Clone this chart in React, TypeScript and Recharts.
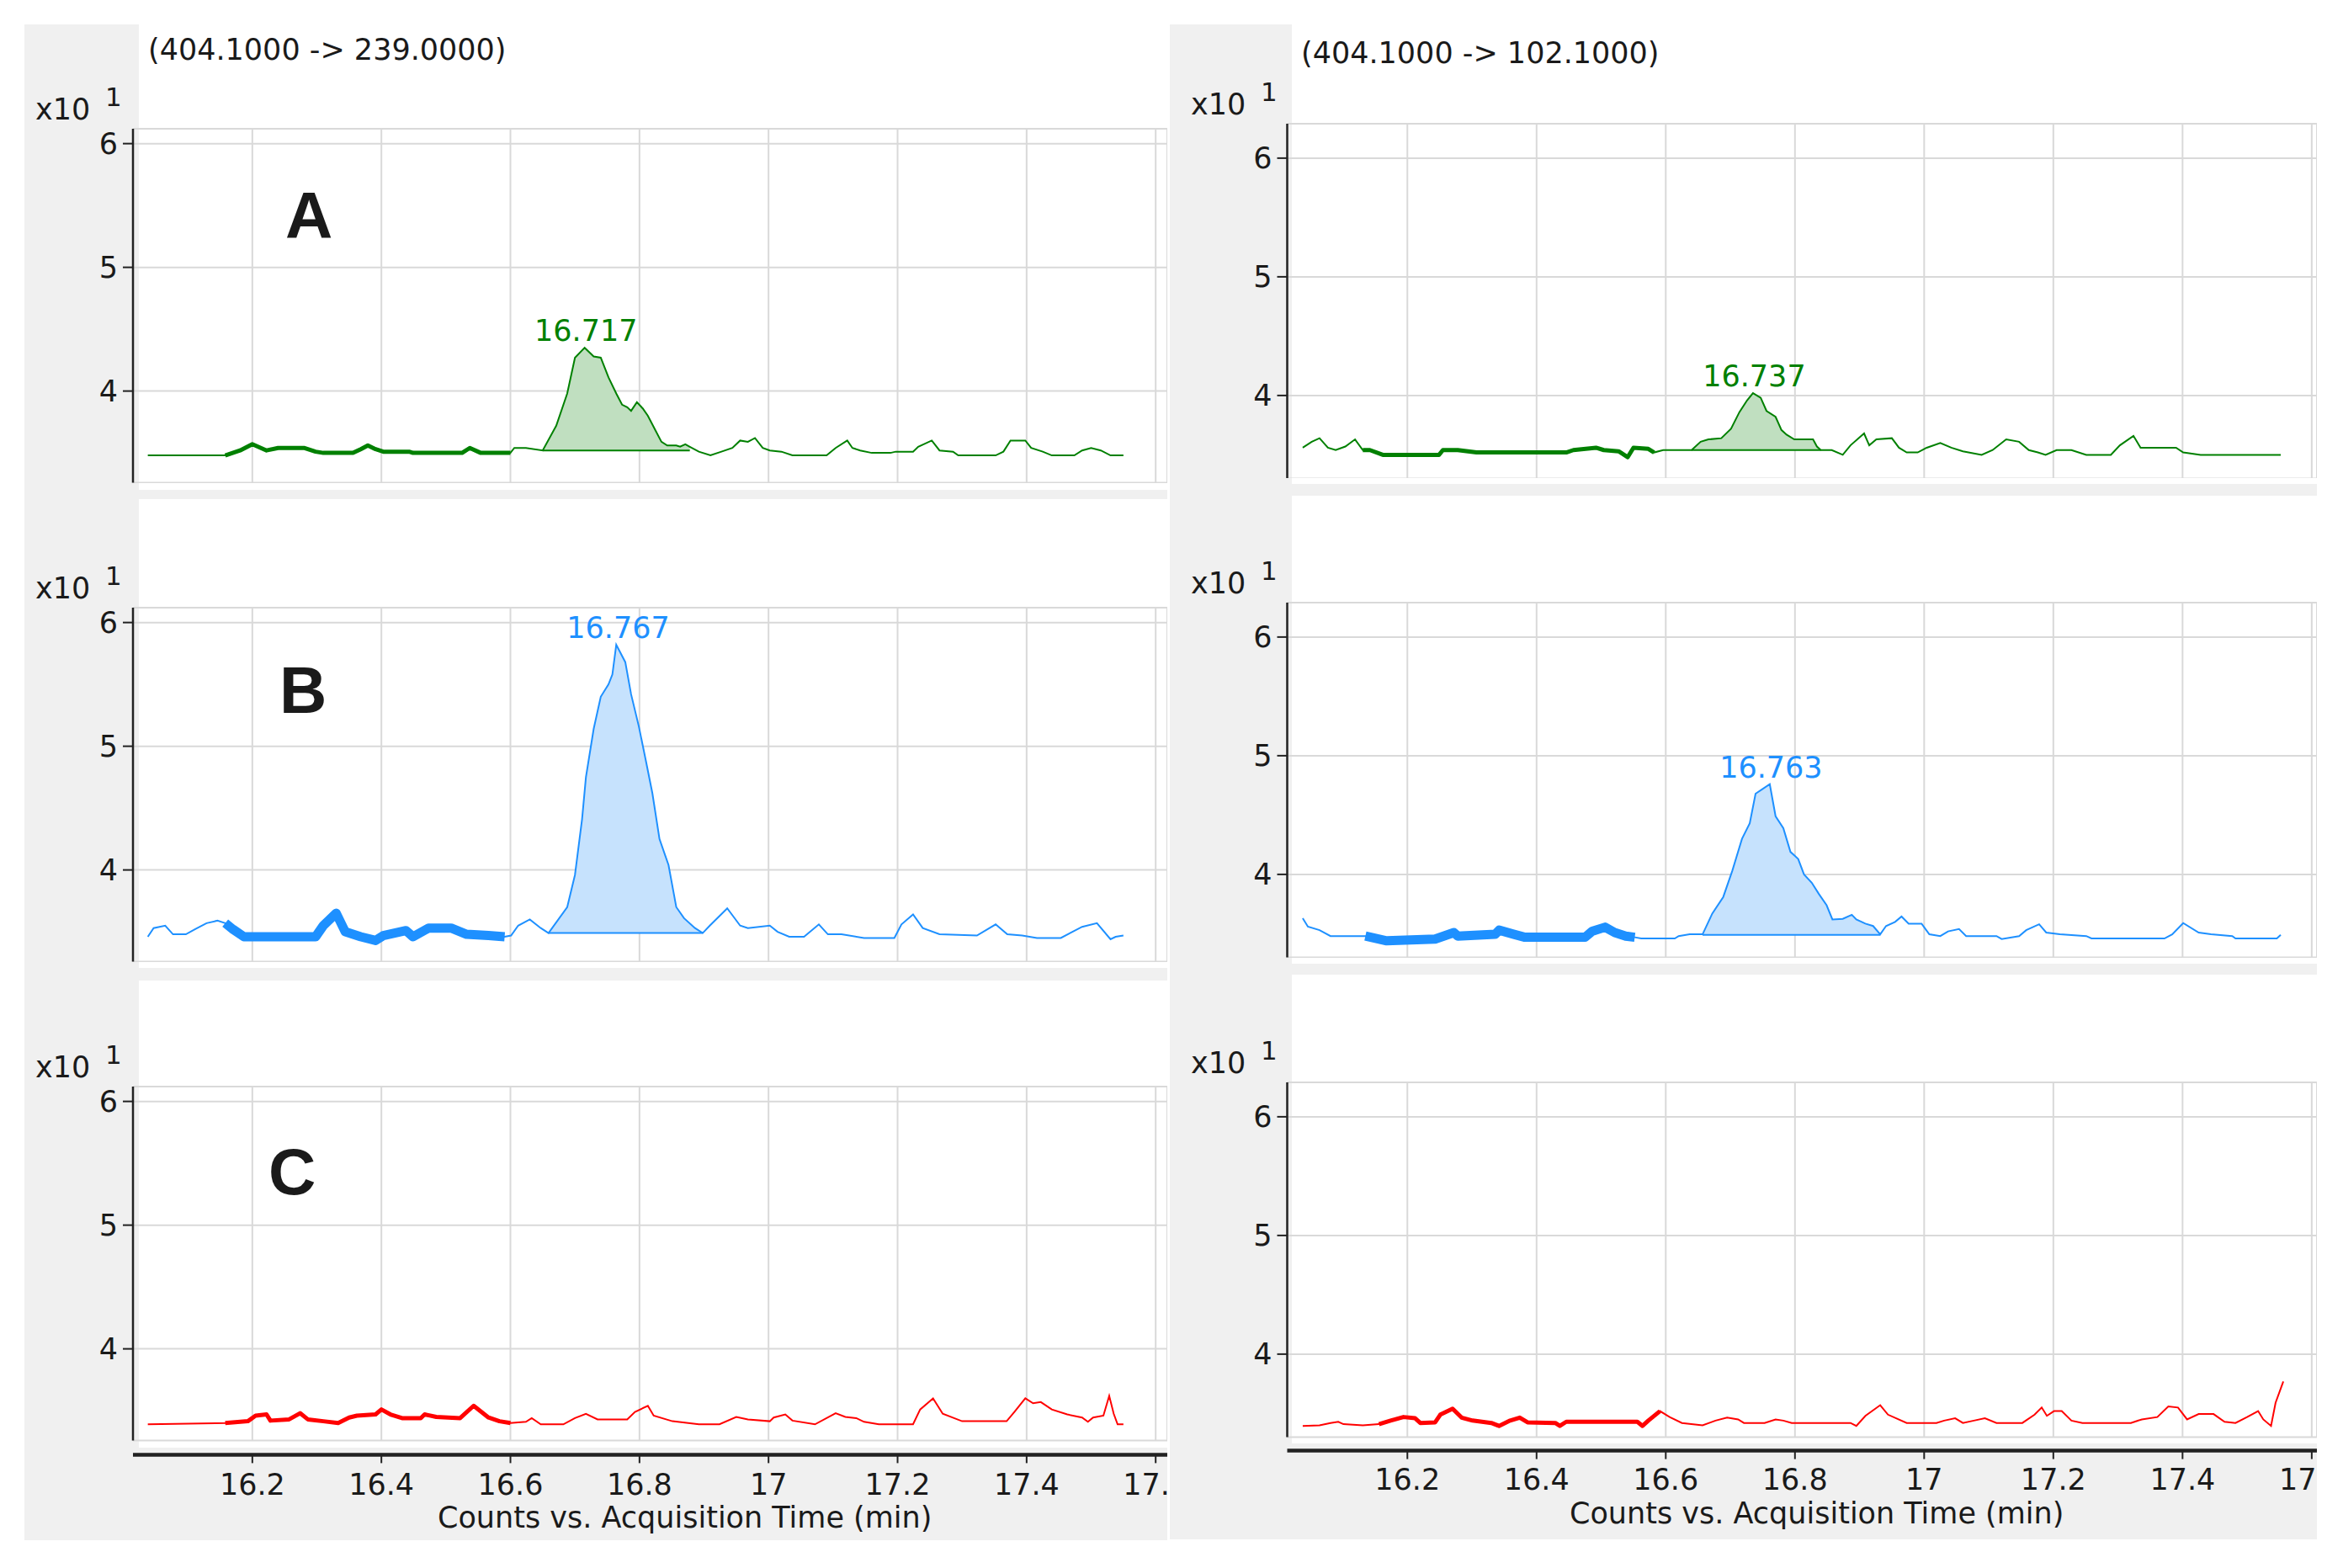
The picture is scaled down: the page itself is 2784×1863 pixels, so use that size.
import React from "react";
import {
  ComposedChart,
  Line,
  Area,
  XAxis,
  YAxis,
  CartesianGrid,
  ReferenceDot
} from "recharts";

// ---- axis ticks / labels ----
const timeTicks = [16.2, 16.4, 16.6, 16.8, 17, 17.2, 17.4, 17.6];
const countTicks = [4, 5, 6];
const transitions = ["(404.1000 -> 239.0000)", "(404.1000 -> 102.1000)"];
const rowLetters = ["A", "B", "C"];
const axisTitle = "Counts vs. Acquisition Time (min)";

// ---- row A, green ----
const aLeftTime = [16.038, 16.158, 16.181, 16.2, 16.222, 16.24, 16.28, 16.298, 16.31, 16.356, 16.368, 16.379, 16.391, 16.403, 16.443, 16.449, 16.525, 16.537, 16.554, 16.6, 16.606, 16.624, 16.65, 16.671, 16.688, 16.7, 16.715, 16.729, 16.74, 16.752, 16.764, 16.773, 16.781, 16.787, 16.796, 16.805, 16.813, 16.824, 16.834, 16.843, 16.857, 16.863, 16.871, 16.878, 16.892, 16.91, 16.927, 16.944, 16.956, 16.968, 16.979, 16.991, 17.002, 17.02, 17.037, 17.09, 17.104, 17.122, 17.13, 17.142, 17.16, 17.189, 17.197, 17.224, 17.232, 17.253, 17.265, 17.286, 17.294, 17.352, 17.364, 17.375, 17.398, 17.407, 17.425, 17.439, 17.474, 17.486, 17.5, 17.515, 17.53, 17.55];
const aLeftCounts = [3.48, 3.48, 3.52, 3.57, 3.52, 3.54, 3.54, 3.51, 3.5, 3.5, 3.53, 3.56, 3.53, 3.51, 3.51, 3.5, 3.5, 3.54, 3.5, 3.5, 3.54, 3.54, 3.52, 3.72, 3.98, 4.27, 4.35, 4.28, 4.27, 4.11, 3.98, 3.89, 3.87, 3.84, 3.91, 3.86, 3.8, 3.69, 3.59, 3.56, 3.56, 3.55, 3.57, 3.55, 3.51, 3.48, 3.51, 3.54, 3.6, 3.59, 3.62, 3.54, 3.52, 3.51, 3.48, 3.48, 3.54, 3.6, 3.54, 3.52, 3.5, 3.5, 3.51, 3.51, 3.55, 3.6, 3.52, 3.51, 3.48, 3.48, 3.51, 3.6, 3.6, 3.54, 3.51, 3.48, 3.48, 3.52, 3.54, 3.52, 3.48, 3.48];
const aLeftBold = [16.158, 16.6];
const aLeftPeak = [16.65, 16.878, 3.52]; // start, end, baseline
const aLeftLabel = [16.717, 4.35]; // rt, apex

const aRightTime = [16.038, 16.052, 16.064, 16.077, 16.089, 16.104, 16.119, 16.131, 16.142, 16.162, 16.249, 16.255, 16.278, 16.307, 16.446, 16.457, 16.492, 16.504, 16.527, 16.541, 16.55, 16.573, 16.582, 16.596, 16.631, 16.64, 16.654, 16.666, 16.686, 16.701, 16.714, 16.726, 16.735, 16.747, 16.756, 16.77, 16.779, 16.787, 16.799, 16.828, 16.834, 16.84, 16.857, 16.874, 16.886, 16.907, 16.915, 16.926, 16.95, 16.961, 16.973, 16.99, 17.004, 17.025, 17.042, 17.06, 17.089, 17.106, 17.127, 17.147, 17.162, 17.176, 17.188, 17.205, 17.228, 17.251, 17.289, 17.303, 17.324, 17.335, 17.361, 17.39, 17.401, 17.428, 17.552];
const aRightCounts = [3.56, 3.61, 3.64, 3.56, 3.54, 3.57, 3.63, 3.54, 3.54, 3.5, 3.5, 3.54, 3.54, 3.52, 3.52, 3.54, 3.56, 3.54, 3.53, 3.48, 3.56, 3.55, 3.52, 3.54, 3.54, 3.54, 3.61, 3.63, 3.64, 3.72, 3.86, 3.96, 4.02, 3.98, 3.87, 3.82, 3.71, 3.67, 3.63, 3.63, 3.57, 3.54, 3.54, 3.5, 3.58, 3.68, 3.58, 3.63, 3.64, 3.56, 3.52, 3.52, 3.56, 3.6, 3.56, 3.53, 3.5, 3.54, 3.63, 3.61, 3.54, 3.52, 3.5, 3.54, 3.54, 3.5, 3.5, 3.58, 3.66, 3.56, 3.56, 3.56, 3.52, 3.5, 3.5];
const aRightBold = [16.131, 16.582];
const aRightPeak = [16.64, 16.84, 3.54];
const aRightLabel = [16.737, 4.02];

// ---- row B, blue ----
const bLeftTime = [16.038, 16.047, 16.065, 16.077, 16.097, 16.111, 16.129, 16.146, 16.158, 16.17, 16.187, 16.298, 16.31, 16.33, 16.344, 16.368, 16.391, 16.403, 16.438, 16.449, 16.473, 16.508, 16.532, 16.566, 16.591, 16.601, 16.612, 16.63, 16.647, 16.659, 16.688, 16.7, 16.711, 16.717, 16.729, 16.74, 16.752, 16.758, 16.764, 16.778, 16.787, 16.799, 16.81, 16.82, 16.831, 16.845, 16.857, 16.869, 16.886, 16.898, 16.909, 16.936, 16.956, 16.968, 17.002, 17.014, 17.032, 17.055, 17.078, 17.092, 17.113, 17.148, 17.195, 17.206, 17.224, 17.239, 17.265, 17.323, 17.352, 17.37, 17.393, 17.416, 17.453, 17.486, 17.509, 17.53, 17.538, 17.55];
const bLeftCounts = [3.46, 3.53, 3.55, 3.48, 3.48, 3.52, 3.57, 3.59, 3.57, 3.52, 3.46, 3.46, 3.55, 3.65, 3.5, 3.46, 3.43, 3.47, 3.51, 3.46, 3.53, 3.53, 3.48, 3.47, 3.46, 3.47, 3.55, 3.6, 3.53, 3.49, 3.7, 3.96, 4.41, 4.75, 5.14, 5.4, 5.5, 5.58, 5.82, 5.68, 5.42, 5.16, 4.88, 4.62, 4.25, 4.04, 3.7, 3.61, 3.53, 3.49, 3.55, 3.69, 3.55, 3.53, 3.55, 3.5, 3.46, 3.46, 3.56, 3.48, 3.48, 3.45, 3.45, 3.56, 3.64, 3.53, 3.48, 3.47, 3.56, 3.48, 3.47, 3.45, 3.45, 3.54, 3.57, 3.44, 3.46, 3.47];
const bLeftBold = [16.158, 16.591];
const bLeftPeak = [16.659, 16.898, 3.49];
const bLeftLabel = [16.767, 5.82];

const bRightTime = [16.038, 16.046, 16.064, 16.081, 16.135, 16.168, 16.243, 16.272, 16.278, 16.336, 16.342, 16.365, 16.382, 16.475, 16.486, 16.506, 16.521, 16.538, 16.552, 16.562, 16.614, 16.62, 16.637, 16.657, 16.672, 16.689, 16.703, 16.718, 16.73, 16.739, 16.75, 16.761, 16.77, 16.782, 16.793, 16.805, 16.814, 16.826, 16.837, 16.849, 16.858, 16.874, 16.888, 16.895, 16.909, 16.921, 16.932, 16.941, 16.955, 16.965, 16.976, 16.996, 17.008, 17.025, 17.037, 17.054, 17.065, 17.112, 17.12, 17.147, 17.158, 17.178, 17.189, 17.21, 17.251, 17.259, 17.372, 17.384, 17.401, 17.425, 17.444, 17.477, 17.482, 17.546, 17.552];
const bRightCounts = [3.63, 3.56, 3.53, 3.48, 3.48, 3.44, 3.455, 3.51, 3.48, 3.495, 3.53, 3.495, 3.47, 3.47, 3.52, 3.555, 3.51, 3.48, 3.47, 3.46, 3.46, 3.48, 3.495, 3.495, 3.67, 3.81, 4.03, 4.3, 4.43, 4.68, 4.72, 4.76, 4.49, 4.39, 4.19, 4.13, 4.0, 3.93, 3.835, 3.74, 3.62, 3.625, 3.66, 3.62, 3.585, 3.565, 3.495, 3.565, 3.6, 3.645, 3.585, 3.585, 3.495, 3.48, 3.52, 3.54, 3.48, 3.48, 3.455, 3.48, 3.53, 3.58, 3.51, 3.495, 3.48, 3.46, 3.46, 3.495, 3.59, 3.51, 3.495, 3.48, 3.46, 3.46, 3.49];
const bRightBold = [16.135, 16.552];
const bRightPeak = [16.657, 16.932, 3.49];
const bRightLabel = [16.763, 4.76];

// ---- row C, red ----
const cLeftTime = [16.038, 16.158, 16.193, 16.205, 16.222, 16.228, 16.257, 16.274, 16.286, 16.31, 16.333, 16.35, 16.362, 16.391, 16.4, 16.414, 16.432, 16.461, 16.467, 16.485, 16.522, 16.543, 16.566, 16.583, 16.6, 16.624, 16.633, 16.647, 16.682, 16.7, 16.717, 16.735, 16.781, 16.793, 16.813, 16.822, 16.851, 16.892, 16.924, 16.95, 16.968, 17.002, 17.008, 17.026, 17.037, 17.072, 17.104, 17.119, 17.136, 17.148, 17.171, 17.224, 17.235, 17.255, 17.27, 17.3, 17.369, 17.381, 17.398, 17.41, 17.422, 17.439, 17.463, 17.486, 17.495, 17.503, 17.519, 17.528, 17.535, 17.541, 17.55];
const cLeftCounts = [3.39, 3.4, 3.415, 3.46, 3.47, 3.42, 3.43, 3.48, 3.43, 3.415, 3.4, 3.445, 3.46, 3.47, 3.51, 3.47, 3.44, 3.44, 3.47, 3.45, 3.44, 3.54, 3.445, 3.415, 3.4, 3.41, 3.44, 3.39, 3.39, 3.44, 3.475, 3.43, 3.43, 3.49, 3.54, 3.46, 3.415, 3.39, 3.39, 3.45, 3.43, 3.415, 3.445, 3.47, 3.42, 3.39, 3.48, 3.45, 3.44, 3.41, 3.39, 3.39, 3.51, 3.6, 3.475, 3.415, 3.415, 3.49, 3.6, 3.56, 3.57, 3.51, 3.47, 3.445, 3.41, 3.445, 3.46, 3.62, 3.475, 3.39, 3.39];
const cLeftBold = [16.158, 16.6];

const cRightTime = [16.038, 16.064, 16.081, 16.093, 16.101, 16.131, 16.156, 16.174, 16.194, 16.212, 16.22, 16.243, 16.251, 16.27, 16.284, 16.301, 16.33, 16.342, 16.359, 16.374, 16.386, 16.429, 16.436, 16.446, 16.481, 16.556, 16.564, 16.573, 16.591, 16.606, 16.625, 16.657, 16.677, 16.695, 16.712, 16.721, 16.753, 16.77, 16.782, 16.795, 16.886, 16.895, 16.909, 16.932, 16.944, 16.973, 17.019, 17.031, 17.048, 17.06, 17.077, 17.094, 17.112, 17.152, 17.171, 17.182, 17.19, 17.201, 17.213, 17.228, 17.245, 17.32, 17.337, 17.361, 17.378, 17.393, 17.407, 17.425, 17.448, 17.465, 17.482, 17.5, 17.517, 17.525, 17.537, 17.544, 17.556];
const cRightCounts = [3.395, 3.4, 3.42, 3.43, 3.41, 3.4, 3.41, 3.44, 3.47, 3.46, 3.42, 3.425, 3.49, 3.54, 3.465, 3.44, 3.42, 3.395, 3.44, 3.465, 3.425, 3.42, 3.395, 3.43, 3.43, 3.43, 3.395, 3.44, 3.52, 3.47, 3.42, 3.4, 3.44, 3.465, 3.45, 3.42, 3.42, 3.45, 3.44, 3.42, 3.42, 3.395, 3.48, 3.57, 3.49, 3.42, 3.42, 3.44, 3.46, 3.42, 3.44, 3.46, 3.42, 3.42, 3.49, 3.55, 3.48, 3.52, 3.52, 3.44, 3.42, 3.42, 3.45, 3.47, 3.56, 3.55, 3.45, 3.495, 3.495, 3.43, 3.42, 3.47, 3.52, 3.45, 3.395, 3.59, 3.77];
const cRightBold = [16.145, 16.596];

// ---- look ----
const rowColors = ["#008000", "#1e90ff", "#ff0000"];
const rowFills = ["#c0dfc0", "#c6e2fd", "none"];
const rowBoldWidth = [5, 11, 5];
const GRAY = "#f0f0f0";
const TEXT = "#1a1a1a";
const FONT = "'DejaVu Sans', sans-serif";
const HEAD = 24; // room above each plot for the top tick label

// plot geometry per column (page pixels)
const COLS = [
  {
    x0: 29, plotX: 158, right: 1387, whiteX: 165,
    tops: [153.4, 722.4, 1291.4], plotH: 420.4,
    xDomain: [16.015, 17.618], yDomain: [3.26, 6.12],
    axisShift: 17, labelGap: 30,
    whites: [[29, 582], [593, 1150], [1165, 1720]], grayBottom: 1830,
    titleX: 176, titleY: 71, x10X: 42, letterX: [339, 332, 319], letterY: [283, 847, 1419],
    axisTitleX: 520, axisTitleY: 1815
  },
  {
    x0: 1390, plotX: 1529.5, right: 2753, whiteX: 1535,
    tops: [146.6, 716, 1286], plotH: 421.6,
    xDomain: [16.014, 17.608], yDomain: [3.3, 6.29],
    axisShift: 16, labelGap: 27.5,
    whites: [[29, 575], [589, 1145], [1158, 1715]], grayBottom: 1829,
    titleX: 1546, titleY: 75, x10X: 1415, letterX: [], letterY: [],
    axisTitleX: 1865, axisTitleY: 1810
  }
];

type Pt = { t: number; v: number };

interface PanelProps {
  col: number;
  row: number;
  time: number[];
  counts: number[];
  bold: number[];
  peak?: number[];
  label?: number[];
}

const panels: PanelProps[] = [
  { col: 0, row: 0, time: aLeftTime, counts: aLeftCounts, bold: aLeftBold, peak: aLeftPeak, label: aLeftLabel },
  { col: 1, row: 0, time: aRightTime, counts: aRightCounts, bold: aRightBold, peak: aRightPeak, label: aRightLabel },
  { col: 0, row: 1, time: bLeftTime, counts: bLeftCounts, bold: bLeftBold, peak: bLeftPeak, label: bLeftLabel },
  { col: 1, row: 1, time: bRightTime, counts: bRightCounts, bold: bRightBold, peak: bRightPeak, label: bRightLabel },
  { col: 0, row: 2, time: cLeftTime, counts: cLeftCounts, bold: cLeftBold },
  { col: 1, row: 2, time: cRightTime, counts: cRightCounts, bold: cRightBold }
];

function Panel({ col, row, time, counts, bold, peak, label }: PanelProps) {
  const c = COLS[col];
  const isBottom = row === 2;
  const axisH = isBottom ? 80 : 0;
  const width = c.right - c.x0;
  const height = HEAD + c.plotH + axisH;
  const color = rowColors[row];

  const pts: Pt[] = time.map((t, i) => ({ t, v: counts[i] }));
  const boldPts = pts.filter((p) => p.t >= bold[0] && p.t <= bold[1]);
  const peakPts = peak ? pts.filter((p) => p.t >= peak[0] && p.t <= peak[1]) : [];
  const basePts = peak
    ? [
        { t: peak[0], v: peak[2] },
        { t: peak[1], v: peak[2] }
      ]
    : [];
  const shift = `translate(0, ${c.axisShift})`;

  return (
    <div
      style={{
        position: "absolute",
        left: c.x0,
        top: c.tops[row] - HEAD,
        width,
        height,
        overflow: "hidden"
      }}
    >
      <ComposedChart
        width={width}
        height={height}
        margin={{ top: HEAD, right: 0, bottom: 0, left: 0 }}
      >
        <CartesianGrid stroke="#d9d9d9" strokeWidth={2} />
        <XAxis
          type="number"
          dataKey="t"
          domain={c.xDomain}
          ticks={timeTicks}
          interval={0}
          allowDataOverflow
          hide={!isBottom}
          height={axisH}
          tick={{ fontSize: 35, fill: TEXT }}
          tickSize={10}
          tickMargin={c.labelGap}
          axisLine={{ stroke: "#222", strokeWidth: 4.5, transform: shift }}
          tickLine={{ stroke: "#222", strokeWidth: 2, transform: shift }}
        />
        <YAxis
          type="number"
          domain={c.yDomain}
          ticks={countTicks}
          interval={0}
          allowDataOverflow
          width={c.plotX - c.x0}
          tick={{ fontSize: 35, fill: TEXT }}
          tickSize={12}
          tickMargin={6}
          axisLine={{ stroke: "#222", strokeWidth: 2.5 }}
          tickLine={{ stroke: "#222", strokeWidth: 2 }}
        />
        {peak && (
          <Area
            data={peakPts}
            dataKey="v"
            type="linear"
            baseValue={peak[2]}
            stroke="none"
            fill={rowFills[row]}
            fillOpacity={1}
            isAnimationActive={false}
          />
        )}
        {peak && (
          <Line
            data={basePts}
            dataKey="v"
            type="linear"
            stroke={color}
            strokeWidth={2}
            dot={false}
            isAnimationActive={false}
          />
        )}
        <Line
          data={pts}
          dataKey="v"
          type="linear"
          stroke={color}
          strokeWidth={2}
          dot={false}
          isAnimationActive={false}
        />
        <Line
          data={boldPts}
          dataKey="v"
          type="linear"
          stroke={color}
          strokeWidth={rowBoldWidth[row]}
          strokeLinejoin="round"
          dot={false}
          isAnimationActive={false}
        />
        {label && (
          <ReferenceDot
            x={label[0]}
            y={label[1]}
            r={0}
            fill="none"
            stroke="none"
            label={{
              value: label[0].toFixed(3),
              position: "top",
              offset: 8,
              fill: color,
              fontSize: 35
            }}
          />
        )}
      </ComposedChart>
    </div>
  );
}

export default function App() {
  return (
    <div
      style={{
        position: "absolute",
        left: 0,
        top: 0,
        width: 2784,
        height: 1863,
        background: "#ffffff",
        fontFamily: FONT,
        overflow: "hidden"
      }}
    >
      {COLS.map((c, ci) => (
        <React.Fragment key={`bg${ci}`}>
          <div
            style={{
              position: "absolute",
              left: c.x0,
              top: 29,
              width: c.right - c.x0,
              height: c.grayBottom - 29,
              background: GRAY
            }}
          />
          {c.whites.map(([y0, y1], wi) => (
            <div
              key={wi}
              style={{
                position: "absolute",
                left: c.whiteX,
                top: y0,
                width: c.right - c.whiteX,
                height: y1 - y0,
                background: "#ffffff"
              }}
            />
          ))}
        </React.Fragment>
      ))}

      {panels.map((p) => (
        <Panel key={`${p.col}-${p.row}`} {...p} />
      ))}

      <svg
        width={2784}
        height={1863}
        style={{ position: "absolute", left: 0, top: 0, pointerEvents: "none" }}
      >
        {COLS.map((c, ci) => (
          <g key={ci} fontFamily={FONT} fill={TEXT}>
            <text x={c.titleX} y={c.titleY} fontSize={35}>
              {transitions[ci]}
            </text>
            {c.tops.map((top, ri) => (
              <g key={ri}>
                <text x={c.x10X} y={top - 11} fontSize={35}>
                  x10
                </text>
                <text x={c.x10X + 83} y={top - 27} fontSize={31}>
                  1
                </text>
              </g>
            ))}
            {c.letterX.map((lx, li) => (
              <text
                key={li}
                x={lx}
                y={c.letterY[li]}
                fontSize={78}
                fontWeight="bold"
                fontFamily="'Liberation Sans', Arial, sans-serif"
              >
                {rowLetters[li]}
              </text>
            ))}
            <text x={c.axisTitleX} y={c.axisTitleY} fontSize={35}>
              {axisTitle}
            </text>
          </g>
        ))}
      </svg>
    </div>
  );
}
